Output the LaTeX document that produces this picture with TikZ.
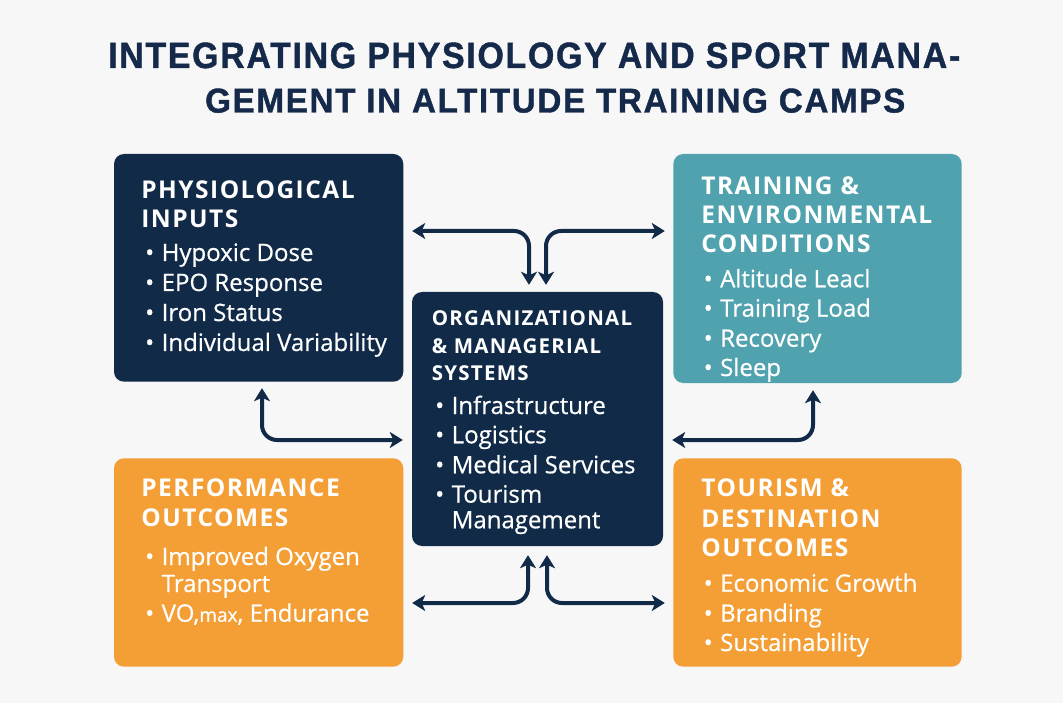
\documentclass[tikz,border=0pt]{standalone}
\usepackage{fontspec}
\usepackage{graphicx}
\usetikzlibrary{arrows.meta}
\setmainfont{Open Sans}
\newfontfamily\titlefont{Liberation Sans}[LetterSpace=5, FakeBold=1.2]
\newfontfamily\hdfont{Open Sans}[LetterSpace=6]
\newfontfamily\itemfont{Open Sans}[FakeBold=0.6]

\definecolor{navy}{HTML}{102A48}
\definecolor{titlenavy}{HTML}{15294A}
\definecolor{teal}{HTML}{50A3AE}
\definecolor{orng}{HTML}{F49E36}
\definecolor{paper}{HTML}{F7F7F7}

% bullet item: the text starts at a fixed offset after the bullet
\newcommand{\bitem}[1]{\makebox[16.5pt][l]{\textbullet}#1}

\tikzset{
  panel/.style={rounded corners=10pt, inner sep=0pt, draw=none},
  hd/.style={anchor=base west, inner sep=0pt, text=white,
             font=\hdfont\bfseries\fontsize{24.5}{24.5}\selectfont},
  hdsmall/.style={hd, font=\hdfont\bfseries\fontsize{20.5}{20.5}\selectfont},
  itm/.style={anchor=base west, inner sep=0pt, text=white,
              font=\itemfont\fontsize{24}{24}\selectfont},
  biarrow/.style={draw=navy, line width=4pt, rounded corners=15pt,
                  {Stealth[length=13pt,width=16pt,inset=3.5pt]}-{Stealth[length=13pt,width=16pt,inset=3.5pt]}},
  ttl/.style={anchor=base west, inner sep=0pt, text=titlenavy,
              font=\titlefont\bfseries}
}

\begin{document}
\begin{tikzpicture}[x=1pt, y=-1pt]
  \useasboundingbox (0,0) rectangle (1063,703);
  \fill[paper] (0,0) rectangle (1063,703);

  % title
  \node[ttl] (t1) at (108,68) {\resizebox{852pt}{25.5pt}{INTEGRATING PHYSIOLOGY AND SPORT MANA-}};
  \node[ttl] (t2) at (205,112.5) {\resizebox{700pt}{24pt}{GEMENT IN ALTITUDE TRAINING CAMPS}};

  % panels
  \node[panel, fill=navy, minimum width=289.3pt, minimum height=227.7pt] (phys) at (258.65,267.85) {};
  \node[panel, fill=teal, minimum width=288.4pt, minimum height=229pt] (train) at (817.5,268.5) {};
  \node[panel, fill=navy, minimum width=251pt, minimum height=254pt] (org) at (537.5,419) {};
  \node[panel, fill=orng, minimum width=289.3pt, minimum height=208.4pt] (perf) at (258.65,562.5) {};
  \node[panel, fill=orng, minimum width=288.4pt, minimum height=208.4pt] (tour) at (817.5,562.5) {};

  % physiological inputs
  \node[hd] (ph1) at (141.2,199) {PHYSIOLOGICAL};
  \node[hd] (ph2) at (141.2,228) {INPUTS};
  \node[itm] (pi1) at (145,261) {\bitem{Hypoxic Dose}};
  \node[itm] (pi2) at (145,291) {\bitem{EPO Response}};
  \node[itm] (pi3) at (145,321) {\bitem{Iron Status}};
  \node[itm] (pi4) at (145,351) {\bitem{Individual Variability}};

  % training and environmental conditions
  \node[hd] (th1) at (701.2,195) {TRAINING \&};
  \node[hd] (th2) at (701.2,224) {ENVIRONMENTAL};
  \node[hd] (th3) at (701.2,252.7) {CONDITIONS};
  \node[itm] (ti1) at (703.5,287.3) {\bitem{Altitude Leacl}};
  \node[itm] (ti2) at (703.5,316.7) {\bitem{Training Load}};
  \node[itm] (ti3) at (703.5,346.7) {\bitem{Recovery}};
  \node[itm] (ti4) at (703.5,376) {\bitem{Sleep}};

  % organizational and managerial systems
  \node[hdsmall] (oh1) at (431.7,326) {ORGANIZATIONAL};
  \node[hdsmall] (oh2) at (431.7,353.3) {\& MANAGERIAL};
  \node[hdsmall] (oh3) at (431.7,380) {SYSTEMS};
  \node[itm] (oi1) at (435,414) {\bitem{Infrastructure}};
  \node[itm] (oi2) at (435,443.3) {\bitem{Logistics}};
  \node[itm] (oi3) at (435,473.3) {\bitem{Medical Services}};
  \node[itm] (oi4) at (435,502.7) {\bitem{Tourism}};
  \node[itm] (oi5) at (451.5,528.3) {Management};

  % performance outcomes
  \node[hd] (fh1) at (141.2,496.7) {PERFORMANCE};
  \node[hd] (fh2) at (141.2,526.7) {OUTCOMES};
  \node[itm] (fi1) at (145,565) {\bitem{Improved Oxygen}};
  \node[itm] (fi2) at (161.5,592) {Transport};
  \node[itm] (fi3) at (145,621.7) {\bitem{VO,{\fontsize{19}{19}\selectfont max}, Endurance}};

  % tourism and destination outcomes
  \node[hd] (dh1) at (701.2,496.7) {TOURISM \&};
  \node[hd] (dh2) at (701.2,527.7) {DESTINATION};
  \node[hd] (dh3) at (701.2,556.7) {OUTCOMES};
  \node[itm] (di1) at (703.5,591.7) {\bitem{Economic Growth}};
  \node[itm] (di2) at (703.5,621.7) {\bitem{Branding}};
  \node[itm] (di3) at (703.5,651) {\bitem{Sustainability}};

  % connectors
  \draw[biarrow] ([xshift=8.7pt,yshift=36.85pt]phys.east) -| ([xshift=-8.5pt,yshift=7pt]org.north);
  \draw[biarrow] ([xshift=8.5pt,yshift=7pt]org.north) |- ([xshift=-8.3pt,yshift=37.5pt]train.west);
  \draw[biarrow] ([xshift=3.35pt,yshift=-6.3pt]phys.south) |- ([xshift=-9pt,yshift=-21pt]org.west);
  \draw[biarrow] ([xshift=9pt,yshift=-21pt]org.east) -| ([xshift=-4.5pt,yshift=-7pt]train.south);
  \draw[biarrow] ([xshift=8.7pt,yshift=-40.5pt]perf.east) -| ([xshift=-9.5pt,yshift=-9pt]org.south);
  \draw[biarrow] ([xshift=9.5pt,yshift=-9pt]org.south) |- ([xshift=-8.3pt,yshift=-40.5pt]tour.west);
\end{tikzpicture}
\end{document}
